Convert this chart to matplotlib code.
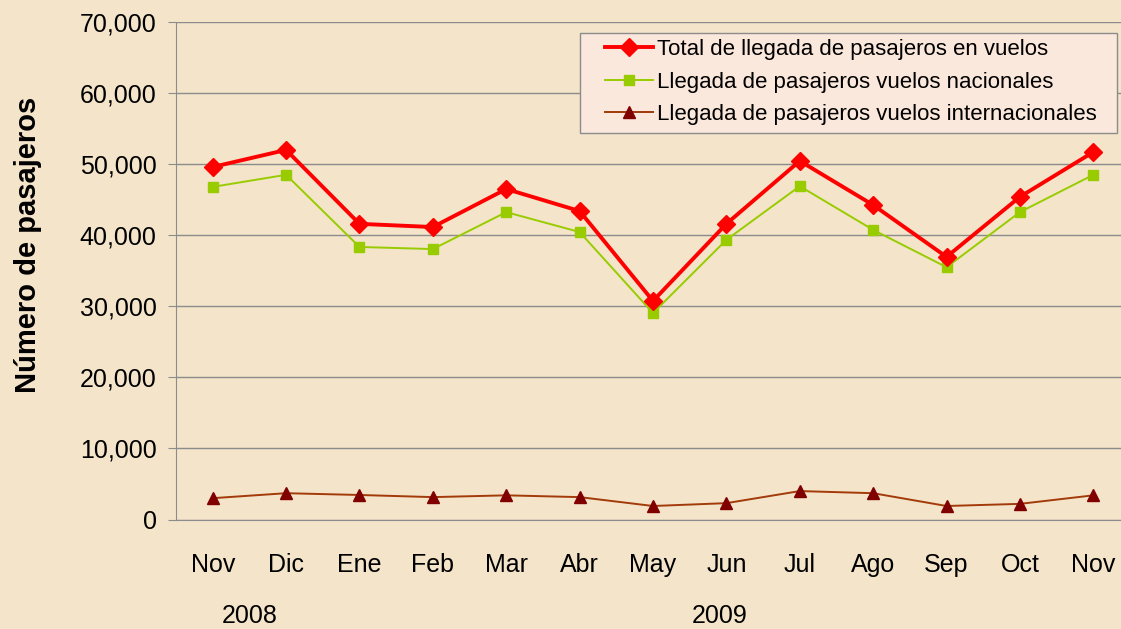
import numpy as np
import matplotlib.pyplot as plt
from matplotlib.patches import Rectangle

plt.rcParams['font.family'] = ['Liberation Sans', 'DejaVu Sans']

# months Nov 2008 .. Nov 2009
meses = ["Nov", "Dic", "Ene", "Feb", "Mar", "Abr", "May", "Jun",
         "Jul", "Ago", "Sep", "Oct", "Nov"]

total = [49600, 52000, 41600, 41150, 46500, 43400, 30750, 41600,
         50450, 44250, 36950, 45400, 51700]
nacional = [46800, 48500, 38350, 38050, 43250, 40450, 29050, 39350,
            46900, 40750, 35500, 43250, 48500]
internacional = [3000, 3700, 3450, 3150, 3400, 3150, 1900, 2300,
                 4000, 3700, 1900, 2200, 3400]

bg = '#f4e4c9'
W, H = 1121, 629

fig = plt.figure(figsize=(W / 100, H / 100), dpi=100, facecolor=bg)
ax = fig.add_axes([176 / W, 1 - 519.5 / H, (1130 - 176) / W, (519.5 - 22) / H])
ax.set_facecolor(bg)

x = np.arange(len(meses))
ax.plot(x, total, color='#ff0000', lw=2.8, marker='D', ms=9,
        label='Total de llegada de pasajeros en vuelos', zorder=4)
ax.plot(x, nacional, color='#99cc00', lw=1.4, marker='s', ms=7,
        label='Llegada de pasajeros vuelos nacionales', zorder=3)
ax.plot(x, internacional, color='#a33a0a', lw=1.4, marker='^', ms=9,
        mfc='#800000', mec='#800000',
        label='Llegada de pasajeros vuelos internacionales', zorder=3)

ax.set_xlim(-0.5, len(meses) - 0.5)
ax.set_ylim(0, 70000)
ax.set_yticks(np.arange(0, 70001, 10000))
ax.set_yticklabels([f"{v:,}" for v in range(0, 70001, 10000)])
ax.set_xticks(x)
ax.set_xticklabels(meses)
ax.grid(axis='y', color='#8c8c8c', lw=1)
ax.set_axisbelow(True)

for s in ['top', 'right']:
    ax.spines[s].set_visible(False)
ax.spines['left'].set_color('#8c8c8c')
ax.spines['bottom'].set_color('#8c8c8c')

ax.tick_params(axis='y', labelsize=18, length=6, color='#8c8c8c', pad=8)
ax.tick_params(axis='x', labelsize=18, length=0, pad=24)

fig.text(28 / W, 1 - 245 / H, 'Número de pasajeros', rotation=90,
         ha='center', va='center', fontsize=21, fontweight='bold')
fig.text(250 / W, 1 - 616 / H, '2008', ha='center', va='center', fontsize=18)
fig.text(720 / W, 1 - 616 / H, '2009', ha='center', va='center', fontsize=18)

# legend box drawn separately (wider side padding than top/bottom)
ax.add_patch(Rectangle((580 / W, 1 - 133 / H), (1117 - 580) / W, 100 / H,
                       transform=fig.transFigure, facecolor='#fbe8dc',
                       edgecolor='#8c8c8c', lw=1, zorder=5, clip_on=False))
leg = ax.legend(loc='upper left', bbox_to_anchor=(605 / W, 1 - 39 / H),
                bbox_transform=fig.transFigure, borderaxespad=0, borderpad=0,
                fontsize=16, frameon=False,
                handlelength=2.16, handletextpad=0.18, labelspacing=0.52)
leg.set_zorder(6)

fig.savefig('out.png', dpi=100, facecolor=bg)
